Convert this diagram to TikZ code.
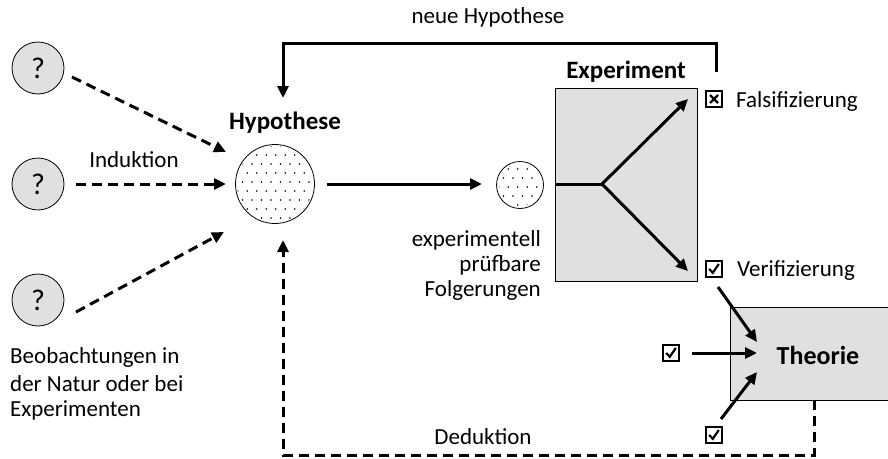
\documentclass[tikz,border=0pt]{standalone}
\usepackage{fontspec}
\setmainfont{Carlito}
\usetikzlibrary{arrows.meta}
\begin{document}
\begin{tikzpicture}[x=1pt,y=-1pt,
  txt/.style={font=\fontsize{23}{27}\selectfont, inner sep=0pt},
  ttl/.style={font=\fontsize{25}{29}\selectfont\bfseries, inner sep=0pt},
  chkbox/.style={draw=black, line width=1.5pt, minimum width=16pt, minimum height=16pt, inner sep=0pt, fill=white},
  chkyes/.style={chkbox, path picture={
      \draw[line width=2.2pt, line join=miter]
        ([shift={(-4.8,0)}]path picture bounding box.center)
        -- ([shift={(-1.2,3.8)}]path picture bounding box.center)
        -- ([shift={(4.8,-5)}]path picture bounding box.center);}},
  chkno/.style={chkbox, path picture={
      \draw[line width=2.2pt]
        ([shift={(-4,-4)}]path picture bounding box.center)
        -- ([shift={(4,4)}]path picture bounding box.center);
      \draw[line width=2.2pt]
        ([shift={(-4,4)}]path picture bounding box.center)
        -- ([shift={(4,-4)}]path picture bounding box.center);}},
  qcircle/.style={circle, draw=black, line width=0.8pt, fill=black!12, minimum size=52pt, inner sep=0pt, font=\fontsize{30}{34}\selectfont},
  solidarrow/.style={line width=3pt, -{Triangle[length=12pt,width=11pt]}},
  dasharrow/.style={line width=3pt, dash pattern=on 10pt off 6pt, -{Triangle[length=12pt,width=11pt]}},
  graybox/.style={draw=black, line width=0.8pt, fill=black!12}]
\clip (0,0) rectangle (888,458);
\fill[white] (0,0) rectangle (888,458);

% observation circles
\node[qcircle] (q1) at (38,68) {?};
\node[qcircle] (q2) at (38,184) {?};
\node[qcircle] (q3) at (38,300) {?};

% hypothesis circle
\node[circle, draw=black, line width=0.8pt, minimum size=79pt, inner sep=0pt] (hyp) at (275,184) {};
\begin{scope}
  \clip (275,184) circle (38pt);
  \foreach \i in {0,...,9} {
    \foreach \j in {0,...,9} {
      \pgfmathsetmacro{\xx}{233+\i*9.5+mod(\j,2)*4.75}
      \pgfmathsetmacro{\yy}{146+\j*9}
      \fill (\xx,\yy) circle (0.8pt);
    }
  }
\end{scope}
\node[ttl] (hyptitle) at (285,123) {Hypothese};

% small consequence circle
\node[circle, draw=black, line width=0.8pt, minimum size=47pt, inner sep=0pt] (folg) at (520,185) {};
\begin{scope}
  \clip (520,185) circle (21pt);
  \foreach \i in {0,...,6} {
    \foreach \j in {0,...,6} {
      \pgfmathsetmacro{\xx}{494+\i*9.5+mod(\j,2)*4.75}
      \pgfmathsetmacro{\yy}{160+\j*9}
      \fill (\xx,\yy) circle (0.8pt);
    }
  }
\end{scope}
\node[txt, anchor=east] (f1) at (541,240) {experimentell};
\node[txt, anchor=east] (f2) at (541,265) {prüfbare};
\node[txt, anchor=east] (f3) at (541,290) {Folgerungen};

% experiment box
\draw[graybox] (555,88) rectangle (697,281);
\coordinate (expleft) at (555,184);
\coordinate (split) at (602,184);
\coordinate (expup) at (688,99);
\coordinate (expdown) at (688,271);
\node[ttl] (exptitle) at (626,72) {Experiment};

% Theorie box
\node[graybox, minimum width=170pt, minimum height=93pt, anchor=north west, inner sep=0pt] (theo) at (730,307) {};
\node[ttl, font=\fontsize{26}{30}\selectfont\bfseries] (theotxt) at (818,355) {Theorie};

% checkboxes and labels
\node[chkno] (fals) at (714,99) {};
\node[txt, anchor=west] (falstxt) at (736,101) {Falsifizierung};
\node[chkyes] (veri) at (714,269) {};
\node[txt, anchor=west] (veritxt) at (737,271) {Verifizierung};
\node[chkyes] (chk2) at (671,353) {};
\node[chkyes] (chk3) at (714,435) {};

% other labels
\node[txt] (neu) at (488,17) {neue Hypothese};
\node[txt] (ind) at (134,160) {Induktion};
\node[txt] (ded) at (483,437) {Deduktion};
\node[txt, anchor=west] (b1) at (10,357) {Beobachtungen in};
\node[txt, anchor=west] (b2) at (10,384) {der Natur oder bei};
\node[txt, anchor=west] (b3) at (10,410) {Experimenten};

% induction arrows
\draw[dasharrow] (72,77) -- (226,152);
\draw[dasharrow] (76,184) -- (226,184);
\draw[dasharrow] (76,312) -- (224,232);

% hypothesis to consequence
\draw[solidarrow] (hyp.east) ++(12,0) -- (482,184);

% experiment branches
\draw[line width=3pt] (expleft) -- (split);
\draw[solidarrow] (split) -- (expup);
\draw[solidarrow] (split) -- (expdown);

% new hypothesis loop
\coordinate (nh1) at (716,72);
\coordinate (nh2) at (716,43);
\coordinate (nh3) at (283,43);
\coordinate (nh4) at (283,98);
\draw[line width=3pt, -{Triangle[length=12pt,width=11pt]}] (nh1) -- (nh2) -- (nh3) -- (nh4);

% into Theorie
\coordinate (vstart) at (718,287);
\coordinate (c2start) at (692,353);
\coordinate (c3start) at (721,419);
\draw[solidarrow] (vstart) -- (757,342);
\draw[solidarrow] (c2start) -- (757,353);
\draw[solidarrow] (c3start) -- (757,372);

% deduction loop
\coordinate (d1) at (814,400);
\coordinate (d2) at (814,455);
\coordinate (d3) at (283,455);
\coordinate (d4) at (283,240);
\draw[dasharrow] (d1) -- (d2) -- (d3) -- (d4);
\end{tikzpicture}
\end{document}
